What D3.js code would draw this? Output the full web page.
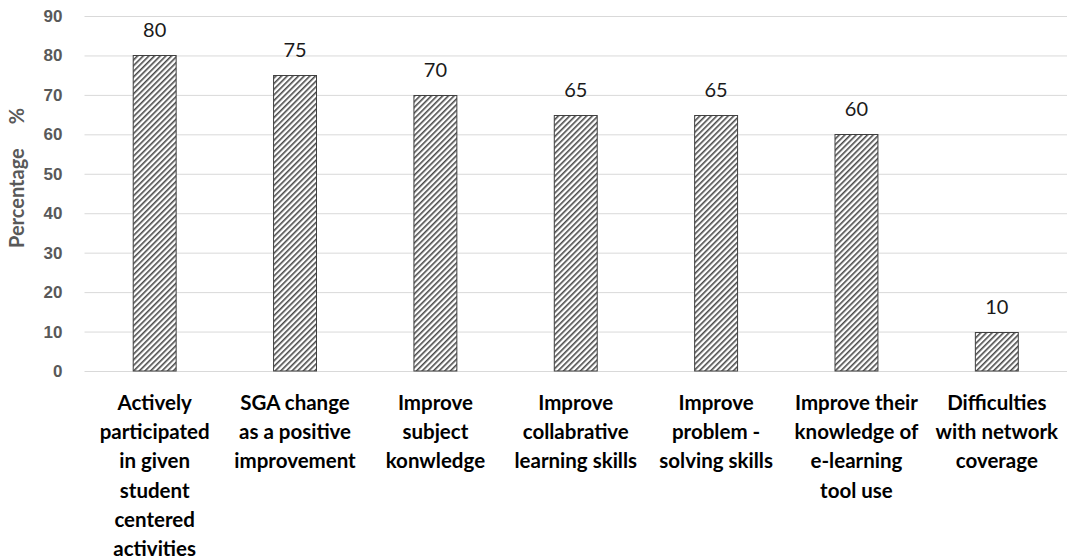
<!DOCTYPE html>
<html>
<head>
<meta charset="utf-8">
<script src="https://cdn.jsdelivr.net/npm/d3@7"></script>
<style>
    body { margin: 0; background: #fff; }
    svg { display: block; font-family: Lato, "Open Sans", sans-serif; }
</style>
</head>
<body>
<div id="chart"></div>
<script>
(function () {
    "use strict";

    // each category is split in lines the way the chart wraps them
    const categories = [
        ["Actively", "participated", "in given", "student", "centered", "activities"],
        ["SGA change", "as a positive", "improvement"],
        ["Improve", "subject", "konwledge"],
        ["Improve", "collabrative", "learning skills"],
        ["Improve", "problem -", "solving skills"],
        ["Improve their", "knowledge of", "e-learning", "tool use"],
        ["Difficulties", "with network", "coverage"]
    ];
    const values = [80, 75, 70, 65, 65, 60, 10];
    const yTicks = [0, 10, 20, 30, 40, 50, 60, 70, 80, 90];
    const yLabel = "Percentage";

    const width = 1068;
    const height = 560;

    const svg = d3.select("#chart").append("svg")
        .attr("width", width)
        .attr("height", height);

    const pattern = svg.append("defs").append("pattern")
        .attr("id", "hatch")
        .attr("patternUnits", "userSpaceOnUse")
        .attr("width", 4)
        .attr("height", 4)
        .attr("patternTransform", "rotate(45)");

    pattern.append("rect")
        .attr("width", 4)
        .attr("height", 4)
        .attr("fill", "#fff");

    pattern.append("rect")
        .attr("width", 1.6)
        .attr("height", 4)
        .attr("fill", "#4a4a4a");

    const pad = 0.687;
    const xScale = d3.scaleBand()
        .domain(d3.range(categories.length))
        .range([84.5, 1067])
        .paddingInner(pad)
        .paddingOuter(pad / 2);

    const yScale = d3.scaleLinear()
        .domain([0, 90])
        .range([371, 16]);

    // grid
    const yAxis = d3.axisLeft(yScale)
        .tickValues(yTicks)
        .tickSize(-(1067 - 84.5))
        .tickPadding(22);

    const gy = svg.append("g")
        .attr("transform", "translate(84.5,0)")
        .call(yAxis);

    gy.select(".domain").remove();
    gy.selectAll(".tick line")
        .attr("stroke", "#d9d9d9");
    gy.selectAll(".tick text")
        .attr("fill", "#595959")
        .style("font-size", "17px")
        .style("font-weight", "bold");

    // bars
    svg.append("g")
        .selectAll("rect")
        .data(values)
        .join("rect")
        .attr("x", (d, i) => xScale(i) + 0.5)
        .attr("y", d => Math.round(yScale(d)) + 0.5)
        .attr("width", xScale.bandwidth() - 1)
        .attr("height", d => yScale(0) - Math.round(yScale(d)) - 0.5)
        .attr("fill", "url(#hatch)")
        .attr("stroke", "#404040")
        .attr("stroke-width", 1);

    // value labels
    svg.append("g")
        .selectAll("text")
        .data(values)
        .join("text")
        .attr("x", (d, i) => xScale(i) + xScale.bandwidth() / 2)
        .attr("y", d => yScale(d) - 18)
        .attr("text-anchor", "middle")
        .attr("fill", "#1a1a1a")
        .style("font-size", "20px")
        .text(d => d);

    // category labels
    const catLabels = svg.append("g")
        .selectAll("text")
        .data(categories)
        .join("text")
        .attr("text-anchor", "middle")
        .attr("fill", "#000")
        .style("font-size", "20.5px")
        .style("font-weight", "bold");

    catLabels.selectAll("tspan")
        .data((d, i) => d.map(line => ({ line, i })))
        .join("tspan")
        .attr("x", d => xScale(d.i) + xScale.bandwidth() / 2)
        .attr("y", (d, j) => 410 + j * 29.2)
        .text(d => d.line);

    // y axis title
    svg.append("text")
        .attr("transform", "translate(24,248) rotate(-90)")
        .attr("fill", "#595959")
        .style("font-size", "20px")
        .style("font-weight", "bold")
        .text(yLabel)
        .append("tspan")
        .attr("dx", 24)
        .text("%");
}());
</script>
</body>
</html>
